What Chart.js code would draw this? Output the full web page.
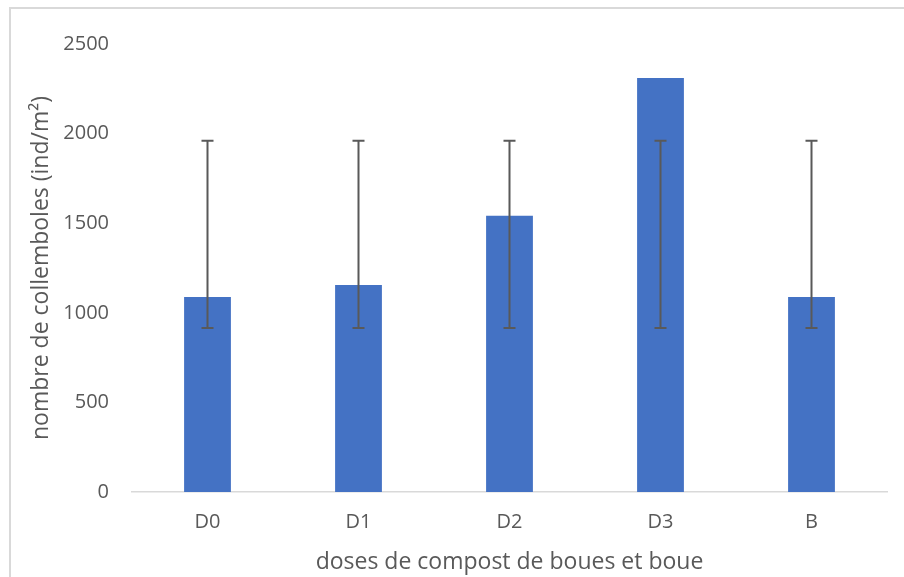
<!DOCTYPE html>
<html>
<head>
<meta charset="utf-8">
<script src="https://cdn.jsdelivr.net/npm/chart.js@4/dist/chart.umd.min.js"></script>
<style>
  html, body { margin: 0; padding: 0; background: #fff; }
  #wrap { position: relative; width: 904px; height: 577px; }
  #frame { position: absolute; left: 9px; top: 7px; right: 0; bottom: 0;
           border-top: 2px solid #d9d9d9; border-left: 2px solid #d9d9d9; pointer-events: none; }
</style>
</head>
<body>
<div id="wrap">
  <canvas id="c" width="904" height="577"></canvas>
  <div id="frame"></div>
</div>
<script>
const categories = ["D0", "D1", "D2", "D3", "B"];
const values = [1088, 1155, 1542, 2310, 1088];
const errLow = [915, 915, 915, 915, 915];
const errHigh = [1960, 1960, 1960, 1960, 1960];
const yTicks = [0, 500, 1000, 1500, 2000, 2500];

const xTitle = "doses de compost de boues et boue";
const yTitle = "nombre de collemboles (ind/m²)";

const FONT = "'Open Sans', 'Liberation Sans', sans-serif";
const TXT = "#595959";

const errorBars = {
  id: "errorBars",
  afterDatasetsDraw(chart) {
    const ctx = chart.ctx;
    const x = chart.scales.x, y = chart.scales.y;
    ctx.save();
    ctx.strokeStyle = "#595959";
    ctx.lineWidth = 2;
    categories.forEach((c, i) => {
      const px = x.getPixelForValue(i);
      const yl = y.getPixelForValue(errLow[i]);
      const yh = y.getPixelForValue(errHigh[i]);
      ctx.beginPath();
      ctx.moveTo(px, yl); ctx.lineTo(px, yh);
      ctx.moveTo(px - 6, yl); ctx.lineTo(px + 6, yl);
      ctx.moveTo(px - 6, yh); ctx.lineTo(px + 6, yh);
      ctx.stroke();
    });
    ctx.restore();
  }
};

new Chart(document.getElementById("c"), {
  type: "bar",
  data: {
    labels: categories,
    datasets: [{
      data: values,
      backgroundColor: "#4472C4",
      borderWidth: 0,
      categoryPercentage: 1,
      barPercentage: 0.31
    }]
  },
  options: {
    responsive: false,
    animation: false,
    devicePixelRatio: 1,
    layout: { padding: { left: 9, top: 44, right: 17, bottom: 0 } },
    plugins: { legend: { display: false }, tooltip: { enabled: false } },
    scales: {
      x: {
        grid: { display: false, drawTicks: false },
        border: { display: true, color: "#d9d9d9", width: 1.5 },
        ticks: { color: TXT, font: { family: FONT, size: 20 }, padding: 18 },
        title: { display: true, text: xTitle, color: TXT,
                 font: { family: FONT, size: 23 }, padding: { top: 0, bottom: 1 } },
        afterFit(s) { s.height = 85; }
      },
      y: {
        min: 0, max: 2500,
        grid: { display: false, drawTicks: false },
        border: { display: false },
        afterBuildTicks(s) { s.ticks = yTicks.map(v => ({ value: v })); },
        ticks: { color: TXT, font: { family: FONT, size: 20 }, padding: 23,
                 callback: (v) => String(v) },
        title: { display: true, text: yTitle, color: TXT,
                 font: { family: FONT, size: 23 }, padding: { top: 19, bottom: 0 } },
        afterFit(s) { s.width = 123; }
      }
    }
  },
  plugins: [errorBars]
});
</script>
</body>
</html>
